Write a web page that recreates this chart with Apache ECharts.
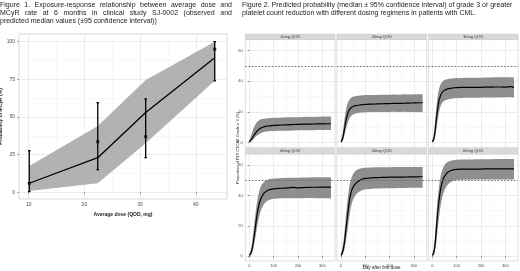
<!DOCTYPE html>
<html>
<head>
<meta charset="utf-8">
<script src="https://cdn.jsdelivr.net/npm/echarts@6/dist/echarts.min.js"></script>
<style>
    html, body { margin: 0; padding: 0; background: #fff; }
    #main { width: 520px; height: 271px; }
</style>
</head>
<body>
<div id="main"></div>
<script>
// ---- Figure 1 : exposure-response ----
var doseLine = [10.1, 22.4, 31.0, 43.4];
var medLine  = [6, 23, 53, 89.4];
var bandLow  = [0.8, 6, 32.5, 74];
var bandHigh = [17.5, 44, 74.5, 100];
var obsMed   = [6, 33.6, 37, 95];
var obsLow   = [0.5, 15, 23, 74];
var obsHigh  = [27.6, 59.5, 62, 100];
var doseTicks = [10, 20, 30, 40];
var doseMinor = [15, 25, 35];
var probTicks = [0, 25, 50, 75, 100];
var probMinor = [12.5, 37.5, 62.5, 87.5];

// ---- Figure 2 : predicted probability of grade>=3 PLT reduction ----
var days = [0, 5, 10, 15, 20, 25, 30, 35, 40, 45, 50, 60, 70, 80, 90, 100, 120, 140, 160, 180, 200, 220, 240, 260, 280, 300, 320, 336];
var panelNames = ['10mg QOD', '20mg QOD', '30mg QOD', '40mg QOD', '50mg QOD', '60mg QOD'];

var med10 = [0.5, 1.5, 2.5, 3.8, 5, 6.2, 7.2, 8, 8.8, 9.3, 9.7, 10.3, 10.7, 10.9, 11.1, 11.2, 11.4, 11.5, 11.6, 11.8, 11.9, 12, 12, 12.1, 12.2, 12.2, 12.3, 12.3];
var hi10  = [1.5, 3.5, 6, 8.5, 10.5, 12, 13.2, 14, 14.6, 15, 15.3, 15.6, 15.8, 16, 16.1, 16.2, 16.3, 16.4, 16.5, 16.6, 16.5, 16.7, 16.8, 16.7, 16.9, 17, 17, 17.1];
var lo10  = [0, 0.5, 1, 2, 2.8, 3.6, 4.4, 5, 5.6, 6, 6.4, 6.9, 7.2, 7.4, 7.5, 7.6, 7.7, 7.8, 7.8, 7.9, 8, 8, 8.1, 8.1, 8.2, 8.2, 8.3, 8.3];

var med20 = [0.5, 2, 5, 9.5, 14, 17.5, 20, 21.5, 22.5, 23.2, 23.6, 24.1, 24.4, 24.6, 24.8, 24.9, 25.1, 25.2, 25.3, 25.4, 25.5, 25.6, 25.6, 25.7, 25.8, 25.9, 26, 26];
var hi20  = [1.5, 4.5, 10, 16, 21, 24.5, 26.8, 28.2, 29, 29.6, 30, 30.4, 30.6, 30.8, 30.9, 31, 31.1, 31, 31.2, 31.3, 31.2, 31.4, 31.3, 31.5, 31.4, 31.5, 31.6, 31.5];
var lo20  = [0, 0.5, 2, 5, 8.5, 11.5, 14, 15.8, 17, 17.8, 18.4, 19, 19.4, 19.6, 19.7, 19.8, 19.9, 19.9, 20, 20, 20, 20.1, 20, 20.1, 20, 19.9, 19.9, 19.8];

var med30 = [0.5, 2, 6, 13, 20, 25.5, 29, 31.3, 32.7, 33.6, 34.2, 34.9, 35.3, 35.6, 35.8, 35.9, 36, 36, 36.1, 36.1, 36.1, 36.2, 36.2, 36.3, 36.3, 36.2, 36.5, 36];
var hi30  = [1.5, 5, 12, 21, 28.5, 33.5, 36.5, 38.5, 39.6, 40.3, 40.8, 41.3, 41.6, 41.8, 42, 42.1, 42.2, 42.3, 42.3, 42.4, 42.4, 42.5, 42.5, 42.6, 42.6, 42.7, 42.6, 42.5];
var lo30  = [0, 0.5, 2.5, 7, 13, 18, 21.8, 24.3, 25.8, 26.8, 27.4, 28, 28.4, 28.7, 28.9, 29, 29.1, 29.2, 29.3, 29.3, 29.4, 29.4, 29.5, 29.5, 29.5, 29.6, 29.6, 29.5];

var med40 = [0.5, 1.5, 4, 8, 13.5, 19.5, 25.5, 30.5, 34, 36.8, 38.8, 41.5, 42.8, 43.6, 44, 44.3, 44.6, 44.8, 45, 45.3, 45, 45.2, 45.3, 45.4, 45.4, 45.5, 45.5, 45.5];
var hi40  = [1.5, 3.5, 7.5, 14, 21, 28, 34, 39, 42.5, 45, 46.8, 49, 50, 50.6, 51, 51.2, 51.4, 51.5, 51.6, 51.7, 51.7, 51.8, 51.8, 51.9, 51.9, 52, 52, 52];
var lo40  = [0, 0.5, 1.5, 4, 8, 12.5, 17.5, 22, 26, 29, 31.3, 34.3, 36, 37, 37.5, 37.8, 38, 38.1, 38.1, 38.2, 38.2, 38.2, 38.3, 38.3, 38.2, 38.2, 38.1, 38];

var med50 = [0.5, 2, 5, 10, 17, 24, 31, 37, 41, 43.8, 45.6, 47.8, 49.2, 50.2, 50.8, 51.2, 51.5, 51.7, 51.8, 51.9, 52, 52, 52.1, 52.1, 52.2, 52.2, 52.3, 52.3];
var hi50  = [1.5, 4.5, 9.5, 17, 26, 34, 41, 46.5, 50, 52.5, 54.2, 56.2, 57.2, 57.8, 58.1, 58.3, 58.4, 58.5, 58.5, 58.6, 58.6, 58.7, 58.7, 58.8, 58.8, 58.8, 58.8, 58.8];
var lo50  = [0, 0.5, 2, 5, 9.5, 15, 21, 27, 31.5, 35, 37.3, 40.3, 42, 43, 43.6, 44, 44.3, 44.5, 44.6, 44.7, 44.8, 44.8, 44.9, 44.9, 45, 45, 45, 45];

var med60 = [0.5, 2, 6, 15, 25, 33.5, 40, 45, 48.6, 51, 52.6, 54.8, 56, 56.6, 57, 57.2, 57.3, 57.3, 57.4, 57.4, 57.4, 57.5, 57.5, 57.5, 57.5, 57.5, 57.5, 57.5];
var hi60  = [1.5, 5, 12, 24, 34.5, 43, 49, 53.5, 56.5, 58.5, 60, 61.8, 62.6, 63, 63.3, 63.5, 63.6, 63.7, 63.7, 63.8, 63.8, 63.9, 63.9, 64, 64, 64, 64, 64];
var lo60  = [0, 0.5, 2.5, 7.5, 15, 22.5, 29, 34.5, 38.5, 41.5, 43.6, 46.5, 48.2, 49.2, 49.8, 50.2, 50.3, 50.4, 50.4, 50.5, 50.5, 50.5, 50.5, 50.5, 50.5, 50.5, 50.5, 50.5];

var medSets = [med10, med20, med30, med40, med50, med60];
var hiSets  = [hi10, hi20, hi30, hi40, hi50, hi60];
var loSets  = [lo10, lo20, lo30, lo40, lo50, lo60];
var dayTicks = [0, 100, 200, 300];
var dayMinor = [50, 150, 250];
var pctTicks = [0, 20, 40, 60];
var pctMinor = [10, 30, 50];
var threshold = 50;

var chart = echarts.init(document.getElementById('main'));

var FONT = 'Liberation Sans, Arial, sans-serif';
var grids = [], xAxes = [], yAxes = [], series = [], graphics = [];

// 绘图区位置
var panelX = [245.3, 336.9, 428.3];
var panelW = 89.8;
var rowTop = [39.5, 154];
var rowH = [108, 107];
var stripY = [34, 148.5];

function addAxes(gi, dim, min, max, major, minor, showLabel, fs, margin) {
    var list = dim === 'x' ? xAxes : yAxes;
    var base = {
        type: 'value', gridIndex: gi, min: min, max: max,
        axisLine: { show: false }
    };
    var idx = list.length;
    list.push(Object.assign({}, base, {
        axisTick: { show: showLabel, customValues: major, length: 1.5, lineStyle: { color: '#444', width: 0.6 } },
        axisLabel: { show: showLabel, customValues: major, fontSize: fs, color: '#4d4d4d', margin: margin, fontFamily: FONT },
        splitLine: { show: true, lineStyle: { color: '#e4e4e4', width: 0.7 } }
    }));
    list.push(Object.assign({}, base, {
        axisTick: { show: false, customValues: minor },
        axisLabel: { show: false, customValues: minor },
        splitLine: { show: true, lineStyle: { color: '#f1f1f1', width: 0.5 } }
    }));
    return idx;
}

function pairs(xs, ys) {
    return xs.map(function (x, i) { return [x, ys[i]]; });
}

// 置信带：一个多边形，上沿正向、下沿反向
function bandSeries(xi, yi, xs, lo, hi, color) {
    return {
        type: 'custom', xAxisIndex: xi, yAxisIndex: yi, silent: true, clip: true,
        data: xs.map(function (x, i) { return [x, lo[i], hi[i]]; }),
        renderItem: function (params, api) {
            if (params.dataIndex !== 0) return null;
            var pts = [];
            for (var i = 0; i < xs.length; i++) pts.push(api.coord([xs[i], hi[i]]));
            for (var j = xs.length - 1; j >= 0; j--) pts.push(api.coord([xs[j], lo[j]]));
            return { type: 'polygon', shape: { points: pts }, style: { fill: color } };
        }
    };
}

// ---------- Figure 1 ----------
grids.push({ left: 19, top: 34, width: 208, height: 165, show: true, borderColor: '#cfcfcf', borderWidth: 0.8, backgroundColor: '#fff', outerBoundsMode: 'none' });
var fx = addAxes(0, 'x', 8.26, 45.6, doseTicks, doseMinor, true, 5, 3);
var fy = addAxes(0, 'y', -4.45, 105.1, probTicks, probMinor, true, 5, 4);
xAxes[fx].name = 'Average dose (QOD, mg)';
xAxes[fx].nameLocation = 'middle';
xAxes[fx].nameGap = 9;
xAxes[fx].nameTextStyle = { fontSize: 5, fontWeight: 'bold', color: '#222', fontFamily: FONT };
yAxes[fy].name = 'Probability of MCyR (%)';
yAxes[fy].nameLocation = 'middle';
yAxes[fy].nameGap = 11;
yAxes[fy].nameTextStyle = { fontSize: 5, fontWeight: 'bold', color: '#222', fontFamily: FONT };

series.push(bandSeries(fx, fy, doseLine, bandLow, bandHigh, '#b2b2b2'));
series.push({
    type: 'line', xAxisIndex: fx, yAxisIndex: fy, symbol: 'none',
    data: pairs(doseLine, medLine), lineStyle: { color: '#000', width: 1.3 }
});
// 误差线
series.push({
    type: 'custom', xAxisIndex: fx, yAxisIndex: fy,
    data: doseLine.map(function (d, i) { return [d, obsLow[i], obsHigh[i]]; }),
    renderItem: function (params, api) {
        var lo = api.coord([api.value(0), api.value(1)]);
        var hi = api.coord([api.value(0), api.value(2)]);
        var w = 1.3;
        var st = { stroke: '#000', lineWidth: 1.3 };
        return {
            type: 'group', children: [
                { type: 'line', shape: { x1: lo[0], y1: lo[1], x2: hi[0], y2: hi[1] }, style: st },
                { type: 'line', shape: { x1: lo[0] - w, y1: lo[1], x2: lo[0] + w, y2: lo[1] }, style: st },
                { type: 'line', shape: { x1: hi[0] - w, y1: hi[1], x2: hi[0] + w, y2: hi[1] }, style: st }
            ]
        };
    }
});
series.push({
    type: 'scatter', xAxisIndex: fx, yAxisIndex: fy, symbol: 'rect', symbolSize: 3,
    data: pairs(doseLine, obsMed), itemStyle: { color: '#000' }
});

// ---------- Figure 2 ----------
for (var p = 0; p < 6; p++) {
    var row = Math.floor(p / 3), col = p % 3;
    var gi = grids.length;
    grids.push({
        left: panelX[col], top: rowTop[row], width: panelW, height: rowH[row],
        show: true, borderColor: '#d6d6d6', borderWidth: 0.8, backgroundColor: '#fff', outerBoundsMode: 'none'
    });
    var xi = addAxes(gi, 'x', -16.8, 352.8, dayTicks, dayMinor, row === 1, 4, 2.5);
    var yi = addAxes(gi, 'y', -3.2, 67.3, pctTicks, pctMinor, col === 0, 4, 2.5);

    series.push(bandSeries(xi, yi, days, loSets[p], hiSets[p], '#8e8e8e'));
    series.push({
        type: 'line', xAxisIndex: xi, yAxisIndex: yi, symbol: 'none', smooth: 0.3,
        data: pairs(days, medSets[p]), lineStyle: { color: '#000', width: 1.2 },
        markLine: {
            silent: true, symbol: 'none', label: { show: false },
            lineStyle: { color: '#6b6b6b', type: [1.5, 1.8], width: 1.1 },
            data: [{ yAxis: threshold }]
        }
    });

    // 分面标签
    graphics.push({
        type: 'rect', shape: { x: panelX[col], y: stripY[row], width: panelW, height: rowTop[row] - stripY[row] },
        style: { fill: '#d9d9d9', stroke: '#c9c9c9', lineWidth: 0.5 }
    });
    graphics.push({
        type: 'text', x: panelX[col] + panelW / 2, y: (stripY[row] + rowTop[row]) / 2,
        style: { text: panelNames[p], fontSize: 4, fill: '#333', align: 'center', verticalAlign: 'middle', fontFamily: FONT }
    });
}

// axis titles of figure 2
graphics.push({
    type: 'text', x: 381.7, y: 267.3,
    style: { text: 'Day after first dose', fontSize: 4.5, fill: '#222', align: 'center', verticalAlign: 'middle', fontFamily: FONT }
});
graphics.push({
    type: 'text', x: 237.5, y: 148, rotation: Math.PI / 2,
    style: { text: 'Proportion of PLT CTCAE Grade \u2265 3 (%)', fontSize: 4, fill: '#222', align: 'center', verticalAlign: 'middle', fontFamily: FONT }
});

// captions (first lines justified like the original)
var measure = document.createElement('canvas').getContext('2d');
function captionLine(t, x, y, width) {
    var fs = 7;
    measure.font = fs + 'px ' + FONT;
    if (!width) {
        graphics.push({ type: 'text', x: x, y: y, style: { text: t, fontSize: fs, fill: '#222', verticalAlign: 'middle', fontFamily: FONT } });
        return;
    }
    var words = t.split(' ');
    var total = 0;
    words.forEach(function (w) { total += measure.measureText(w).width; });
    var gap = (width - total) / (words.length - 1);
    var cx = x;
    words.forEach(function (w) {
        graphics.push({ type: 'text', x: cx, y: y, style: { text: w, fontSize: fs, fill: '#222', verticalAlign: 'middle', fontFamily: FONT } });
        cx += measure.measureText(w).width + gap;
    });
}
captionLine('Figure 1. Exposure-response relationship between average dose and', 0, 5, 232);
captionLine('MCyR rate at 6 months in clinical study SJ-0002 (observed and', 0, 13, 232);
captionLine('predicted median values (\u00b195 confidence interval))', 0, 21, 0);
captionLine('Figure 2. Predicted probability (median \u00b1 95% confidence interval) of grade 3 or greater', 242, 5, 0);
captionLine('platelet count reduction with different dosing regimens in patients with CML.', 242, 13, 0);

chart.setOption({
    animation: false,
    backgroundColor: '#fff',
    grid: grids,
    xAxis: xAxes,
    yAxis: yAxes,
    series: series,
    graphic: graphics
});
</script>
</body>
</html>
